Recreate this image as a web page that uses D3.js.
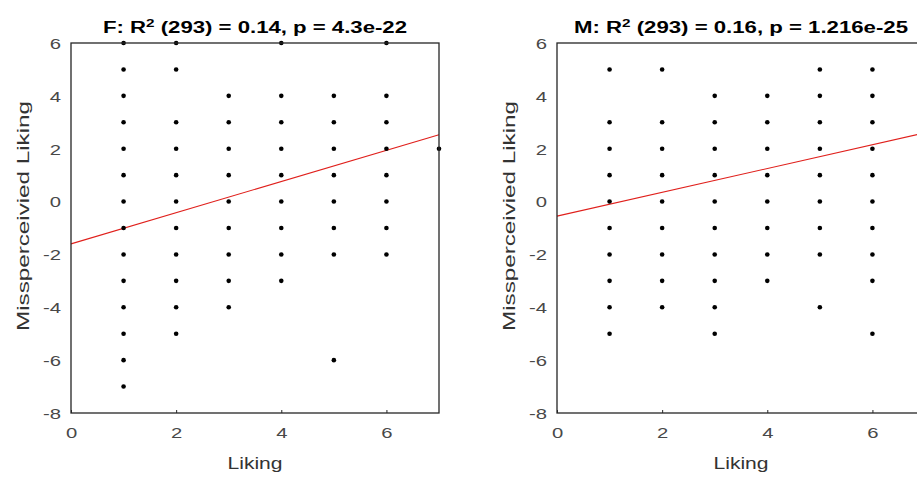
<!DOCTYPE html>
<html>
<head>
<meta charset="utf-8">
<script src="https://cdn.jsdelivr.net/npm/d3@7"></script>
<style>
  body { margin: 0; background: #fff; }
  text { font-family: "Liberation Sans", Arial, sans-serif; }
</style>
</head>
<body>
<script>
const canvWidth = 917, canvHeight = 478;

// liking values on the x axis (1..7)
const likingLevels = [1, 2, 3, 4, 5, 6, 7];

// misperceived liking values present at each liking level
const femaleMis = [
    [6, 5, 4, 3, 2, 1, 0, -1, -2, -3, -4, -5, -6, -7],
    [6, 5, 3, 2, 1, 0, -1, -2, -3, -4, -5],
    [4, 3, 2, 1, 0, -1, -2, -3, -4],
    [6, 4, 3, 2, 1, 0, -1, -2, -3],
    [4, 3, 2, 1, 0, -1, -2, -6],
    [6, 4, 3, 2, 1, 0, -1, -2],
    [2]
];
const maleMis = [
    [5, 3, 2, 1, 0, -1, -2, -3, -4, -5],
    [5, 3, 2, 1, 0, -1, -2, -3, -4],
    [4, 3, 2, 1, 0, -1, -2, -3, -4, -5],
    [4, 3, 2, 1, 0, -1, -2, -3],
    [5, 4, 3, 2, 1, 0, -1, -2, -4],
    [5, 4, 3, 2, 1, 0, -1, -2, -3, -5],
    []
];

// regression fits [intercept, slope]
const femaleFit = [-1.6, 0.59];
const maleFit = [-0.55, 0.45];

const xTicks = [0, 2, 4, 6];
const yTicks = [-8, -6, -4, -2, 0, 2, 4, 6];
const titles = ["F: R|2| (293) = 0.14, p = 4.3e-22", "M: R|2| (293) = 0.16, p = 1.216e-25"];
const xLabel = "Liking";
const yLabel = "Missperceivied Liking";

const panels = [
    {mis: femaleMis, fit: femaleFit, title: titles[0], left: 71, titleLen: 304},
    {mis: maleMis, fit: maleFit, title: titles[1], left: 557, titleLen: 334}
];

const plotTop = 43, plotBottom = 413, plotW = 368;
const stretch = 1.35;   // glyphs in the picture are wide

const svg = d3.select("body").append("svg")
    .attr("width", canvWidth)
    .attr("height", canvHeight);

panels.forEach(p => {
    const x = d3.scaleLinear().domain([0, 7]).range([p.left, p.left + plotW]);
    const y = d3.scaleLinear().domain([-8, 6]).range([plotBottom, plotTop]);
    const g = svg.append("g");

    // regression line
    g.append("line")
        .attr("x1", x(0)).attr("y1", y(p.fit[0]))
        .attr("x2", x(7)).attr("y2", y(p.fit[0] + 7 * p.fit[1]))
        .attr("stroke", "#e0201c")
        .attr("stroke-width", 1.1);

    // points
    const pts = [];
    likingLevels.forEach((lv, i) => p.mis[i].forEach(v => pts.push([lv, v])));
    g.append("g").selectAll("circle")
        .data(pts)
        .enter().append("circle")
        .attr("cx", d => x(d[0]))
        .attr("cy", d => y(d[1]))
        .attr("r", 2.3)
        .attr("fill", "#000");

    // box
    g.append("rect")
        .attr("x", x(0)).attr("y", plotTop)
        .attr("width", plotW).attr("height", plotBottom - plotTop)
        .attr("fill", "none")
        .attr("stroke", "#262626")
        .attr("stroke-width", 1.3);

    const xAxis = g.append("g")
        .attr("transform", `translate(0,${plotBottom})`)
        .call(d3.axisBottom(x).tickValues(xTicks).tickSizeInner(-3).tickSizeOuter(0)
            .tickPadding(14).tickFormat(d => String(d)));
    const yAxis = g.append("g")
        .attr("transform", `translate(${x(0)},0)`)
        .call(d3.axisLeft(y).tickValues(yTicks).tickSize(0)
            .tickPadding(10).tickFormat(d => String(d)));

    [xAxis, yAxis].forEach(ax => {
        ax.select(".domain").remove();
        ax.selectAll("line").attr("stroke", "#262626");
        ax.selectAll("text")
            .attr("fill", "#484848")
            .attr("font-size", "15px")
            .attr("font-family", "Liberation Sans, Arial, sans-serif");
    });
    yAxis.selectAll("text").attr("dy", "0.36em");
    [xAxis, yAxis].forEach(ax => ax.selectAll("text").each(function () {
        const w = this.getComputedTextLength();
        d3.select(this).attr("textLength", w * stretch).attr("lengthAdjust", "spacingAndGlyphs");
    }));

    // title with superscript
    const parts = p.title.split("|");
    const t = g.append("text")
        .attr("x", (x(0) + x(7)) / 2)
        .attr("y", 33)
        .attr("text-anchor", "middle")
        .attr("font-size", "16px")
        .attr("font-weight", "bold")
        .attr("fill", "#000")
        .attr("textLength", p.titleLen)
        .attr("lengthAdjust", "spacingAndGlyphs");
    t.append("tspan").text(parts[0]);
    t.append("tspan").attr("dy", -6).attr("font-size", "11px").text(parts[1]);
    t.append("tspan").attr("dy", 6).text(parts[2]);

    g.append("text")
        .attr("x", (x(0) + x(7)) / 2)
        .attr("y", 469)
        .attr("text-anchor", "middle")
        .attr("font-size", "17px")
        .attr("fill", "#333")
        .attr("textLength", 55)
        .attr("lengthAdjust", "spacingAndGlyphs")
        .text(xLabel);

    g.append("text")
        .attr("transform", `translate(${x(0) - 42},216) rotate(-90)`)
        .attr("text-anchor", "middle")
        .attr("font-size", "17px")
        .attr("fill", "#333")
        .attr("textLength", 230)
        .attr("lengthAdjust", "spacingAndGlyphs")
        .text(yLabel);
});
</script>
</body>
</html>
